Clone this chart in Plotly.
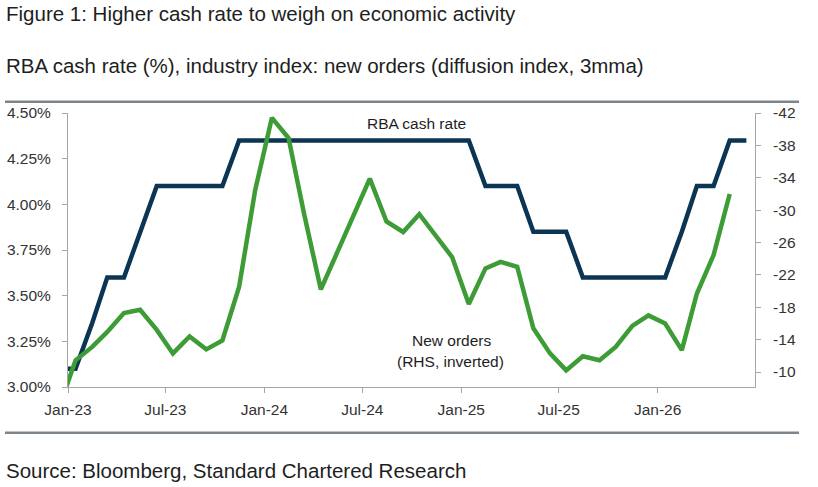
import pandas as pd
import plotly.graph_objects as go

# ---- data (monthly, plotted at mid-month) ----
months = pd.date_range("2022-12-01", "2026-06-01", freq="MS") + pd.Timedelta(days=14)

cash_rate = [3.10,
             3.10, 3.35, 3.60, 3.60, 3.85, 4.10, 4.10, 4.10, 4.10, 4.10, 4.35, 4.35,
             4.35, 4.35, 4.35, 4.35, 4.35, 4.35, 4.35, 4.35, 4.35, 4.35, 4.35, 4.35,
             4.35, 4.10, 4.10, 4.10, 3.85, 3.85, 3.85, 3.60, 3.60, 3.60, 3.60, 3.60,
             3.60, 3.85, 4.10, 4.10, 4.35, 4.35]

new_orders = [-5.5,
              -11.45, -13.1, -14.95, -17.3, -17.7, -15.2, -12.3, -14.4, -12.8, -13.9, -20.5, -32.5,
              -41.4, -38.9, -29.5, -20.2, -24.7, -29.4, -33.9, -28.6, -27.3, -29.5, -26.9, -24.2,
              -18.4, -22.8, -23.6, -23.0, -15.4, -12.3, -10.2, -11.95, -11.45, -13.1, -15.7, -17.0,
              -16.0, -12.7, -19.7, -24.45, -32.0, None]

x_ticks = ["2023-01-01", "2023-07-01", "2024-01-01", "2024-07-01",
           "2025-01-01", "2025-07-01", "2026-01-01"]
x_ticklabels = ["Jan-23", "Jul-23", "Jan-24", "Jul-24", "Jan-25", "Jul-25", "Jan-26"]
left_ticks = [3.00, 3.25, 3.50, 3.75, 4.00, 4.25, 4.50]
right_ticks = [-42, -38, -34, -30, -26, -22, -18, -14, -10]

NAVY = "#0c3553"
GREEN = "#3d9c35"
AXIS = "#a6a6a6"
TXT = "#1e1e1e"
FONT = "Liberation Sans, Arial, sans-serif"

W, H = 818, 487
L, R, T, B = 68, 63, 113, 100
PW, PH = W - L - R, H - T - B


def px_x(x):
    return (x - L) / PW


def px_y(y):
    return (H - B - y) / PH


fig = go.Figure()
fig.add_trace(go.Scatter(x=months, y=cash_rate, mode="lines", name="RBA cash rate",
                         line=dict(color=NAVY, width=4.5), yaxis="y"))
fig.add_trace(go.Scatter(x=months, y=new_orders, mode="lines", name="New orders",
                         line=dict(color=GREEN, width=4.5), yaxis="y2"))

axis_common = dict(showgrid=False, zeroline=False, showline=True, linecolor=AXIS, linewidth=1,
                   ticks="outside", ticklen=5, tickcolor=AXIS, automargin=False,
                   tickfont=dict(family=FONT, size=15.5, color="#333333"))

fig.update_layout(
    width=W, height=H,
    margin=dict(l=L, r=R, t=T, b=B, pad=0, autoexpand=False),
    paper_bgcolor="white", plot_bgcolor="white",
    showlegend=False,
    font=dict(family=FONT, color=TXT),
    xaxis=dict(type="date", range=["2023-01-01", "2026-07-01"],
               tickvals=x_ticks, ticktext=x_ticklabels, ticklabelstandoff=3, **axis_common),
    yaxis=dict(range=[3.0, 4.5], tickvals=left_ticks,
               ticktext=[f"{v:.2f}%" for v in left_ticks], ticklabelstandoff=8, **axis_common),
    yaxis2=dict(range=[-8.15, -42], overlaying="y", side="right", tickvals=right_ticks,
                ticktext=[str(v) for v in right_ticks], ticklabelstandoff=9, **axis_common),
)

# texts
HEAD = 20.5
fig.add_annotation(text="Figure 1: Higher cash rate to weigh on economic activity",
                   xref="paper", yref="paper", x=px_x(4), y=px_y(13), xanchor="left", yanchor="middle",
                   showarrow=False, font=dict(family=FONT, size=HEAD, color=TXT))
fig.add_annotation(text="RBA cash rate (%), industry index: new orders (diffusion index, 3mma)",
                   xref="paper", yref="paper", x=px_x(4), y=px_y(66), xanchor="left", yanchor="middle",
                   showarrow=False, font=dict(family=FONT, size=HEAD, color=TXT))
fig.add_annotation(text="Source: Bloomberg, Standard Chartered Research",
                   xref="paper", yref="paper", x=px_x(4), y=px_y(470), xanchor="left", yanchor="middle",
                   showarrow=False, font=dict(family=FONT, size=HEAD, color=TXT))
fig.add_annotation(text="RBA cash rate",
                   xref="paper", yref="paper", x=px_x(416.5), y=px_y(123.5), xanchor="center", yanchor="middle",
                   showarrow=False, font=dict(family=FONT, size=15.5, color=TXT))
fig.add_annotation(text="New orders",
                   xref="paper", yref="paper", x=px_x(451), y=px_y(340), xanchor="center", yanchor="middle",
                   showarrow=False, font=dict(family=FONT, size=15.5, color=TXT))
fig.add_annotation(text="(RHS, inverted)",
                   xref="paper", yref="paper", x=px_x(450), y=px_y(361.5), xanchor="center", yanchor="middle",
                   showarrow=False, font=dict(family=FONT, size=15.5, color=TXT))

# separator rules
for yy in (101.7, 432.7):
    fig.add_shape(type="line", xref="paper", yref="paper",
                  x0=px_x(5), x1=px_x(799), y0=px_y(yy), y1=px_y(yy),
                  line=dict(color="#7d858c", width=2.5))

fig.write_html("out.html")
